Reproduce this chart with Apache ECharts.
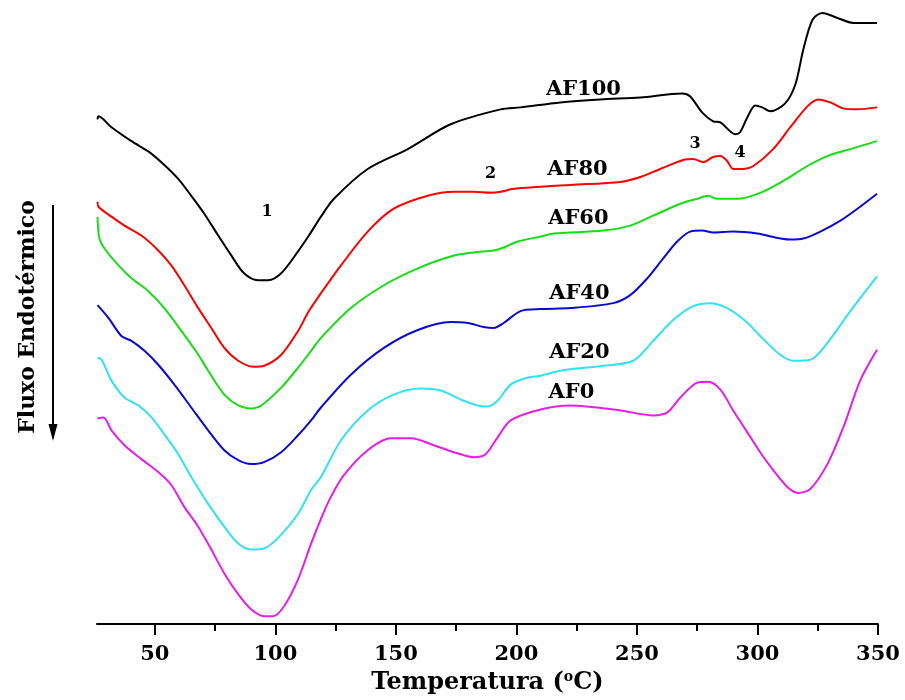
<!DOCTYPE html>
<html>
<head>
<meta charset="utf-8">
<script src="https://cdn.jsdelivr.net/npm/echarts@6/dist/echarts.min.js"></script>
<style>html,body{margin:0;padding:0;background:#fff}#c{width:905px;height:700px}</style>
</head>
<body>
<div id="c"></div>
<script>
// Temperature (°C) and heat-flow signal (arbitrary units, offset curves)
const af100T = [26.2,26.6,32.0,40.3,47.7,53.5,59.7,65.1,70.5,76.3,81.7,87.0,92.8,97.0,102.4,109.4,113.9,118.9,124.3,138.3,154.9,172.7,193.4,201.7,218.2,234.8,251.4,268.8,272.1,277.0,281.6,284.6,290.8,292.8,295.8,299.1,302.0,305.3,311.5,315.7,319.0,322.8,326.9,333.2,339.7,349.6];
const af100V = [50.8,51.1,50.0,48.6,47.5,46.3,44.8,43.1,41.3,39.1,37.1,35.3,34.6,34.6,35.3,37.5,39.1,41.0,42.8,45.8,47.8,50.3,51.8,52.0,52.5,52.8,53.0,53.4,53.1,51.5,50.6,50.5,49.3,49.5,51.0,52.2,52.0,51.6,52.4,54.3,57.8,60.8,61.5,61.0,60.5,60.5];

const af80T = [26.2,26.6,32.0,37.4,44.4,51.4,56.8,62.2,68.0,73.4,78.8,84.6,90.8,95.3,102.4,109.4,113.9,118.9,127.2,138.3,149.1,163.2,174.0,182.2,189.3,193.4,198.8,210.0,222.4,243.1,251.4,259.6,269.2,273.3,277.5,281.6,284.6,287.4,289.9,294.1,298.3,306.5,313.6,320.7,325.2,330.2,335.6,341.4,349.6];
const af80V = [42.5,42.0,41.0,40.1,39.1,37.6,36.1,34.1,31.8,29.8,27.8,26.5,25.9,26.0,27.1,29.5,31.5,33.3,36.1,39.5,41.8,43.1,43.5,43.5,43.4,43.5,43.8,44.0,44.2,44.5,45.0,45.8,46.7,46.8,46.5,47.0,47.1,46.6,45.8,45.8,46.1,47.8,50.0,52.1,52.8,52.5,51.9,51.8,52.0];

const af60T = [26.2,27.0,29.1,34.9,40.3,47.3,53.9,61.0,68.0,72.1,78.8,84.6,89.9,94.1,102.4,109.4,114.8,118.9,131.3,145.0,159.1,172.7,182.2,190.5,194.7,200.5,210.0,215.4,236.0,247.2,256.7,268.0,275.0,279.5,283.3,291.6,301.1,310.7,320.7,329.0,338.5,349.6];
const af60V = [41.0,38.8,37.8,36.1,34.8,33.5,31.8,29.5,27.1,25.5,23.1,22.0,21.7,22.0,23.8,25.8,27.5,28.8,31.8,34.1,35.8,37.0,37.4,37.6,37.9,38.5,39.0,39.3,39.6,40.1,41.1,42.3,42.8,43.1,42.8,42.8,43.4,44.6,46.1,47.1,47.8,48.6];

const af40T = [26.2,30.8,36.1,40.3,45.7,51.4,58.1,65.1,72.1,78.8,84.6,89.9,95.3,102.4,109.4,114.8,118.9,131.3,145.0,159.1,172.7,179.8,186.4,190.5,194.7,201.7,210.0,222.4,240.2,247.2,254.3,260.9,266.7,272.1,277.0,281.6,289.9,299.9,313.6,319.0,326.1,334.4,342.6,349.6];
const af40V = [32.1,30.8,29.0,28.5,27.5,26.1,24.1,21.8,19.5,17.5,16.5,16.1,16.3,17.3,19.0,20.5,21.8,25.1,27.8,29.6,30.4,30.3,29.9,29.8,30.3,31.5,31.7,31.8,32.3,33.1,34.8,36.8,38.5,39.5,39.6,39.4,39.5,39.3,38.7,38.8,39.5,40.6,42.0,43.3];

const af20T = [26.2,27.9,32.0,37.4,43.2,48.6,53.9,59.7,65.1,72.1,78.8,84.6,89.9,95.3,102.4,109.4,114.8,118.9,127.2,138.3,149.1,160.3,168.6,176.9,183.9,188.1,192.2,197.6,204.6,210.0,218.2,236.0,248.5,256.7,265.0,273.3,280.4,287.4,295.0,301.1,309.4,314.9,321.9,329.0,338.5,349.6];
const af20V = [26.8,26.6,24.5,22.8,22.0,20.8,19.1,17.1,14.8,12.1,9.8,8.1,7.5,7.6,9.0,11.1,13.5,14.8,18.5,21.5,23.1,23.7,23.5,22.6,22.0,21.9,22.5,24.1,24.8,25.0,25.5,26.0,26.5,28.5,30.6,32.0,32.3,31.8,30.5,29.0,27.1,26.5,26.6,28.3,31.5,35.0];

const af0T = [26.2,28.7,32.0,37.4,44.4,51.4,56.8,62.2,68.0,73.4,78.8,84.6,89.9,95.3,99.0,103.6,109.4,114.8,118.9,123.0,128.4,138.3,147.9,156.2,165.7,174.0,182.2,187.2,192.2,197.6,210.0,222.4,243.1,256.7,262.6,268.0,275.0,279.5,284.6,289.9,295.0,301.1,306.5,312.4,316.9,321.9,329.0,335.6,342.6,349.6];
const af0V = [20.7,20.8,19.5,18.0,16.6,15.3,14.0,11.8,9.8,7.5,5.1,3.0,1.5,0.8,0.8,1.8,4.5,8.1,10.6,12.8,15.0,17.5,18.7,18.7,18.0,17.3,16.8,17.1,18.8,20.5,21.6,22.0,21.5,21.0,21.3,22.8,24.3,24.4,23.6,21.5,19.6,17.3,15.5,13.8,13.2,13.6,16.1,19.8,24.5,27.6];

const seriesNames = ['AF100','AF80','AF60','AF40','AF20','AF0'];
const seriesColors = ['#000000','#ff0000','#18dc18','#0a0ad2','#30e3ee','#e61ee6'];

// Annotations (text placed at data coordinates)
const noteText = ['AF100','AF80','AF60','AF40','AF20','AF0','1','2','3','4'];
const noteT = [227.8,225.3,225.7,226.1,226.1,222.8,96.6,189.3,274.1,292.8];
const noteV = [53.8,45.7,40.8,33.3,27.3,23.3,41.5,45.3,48.3,47.4];
const noteSize = [21,21,21,21,21,21,16,16,16,16];

const majorTicks = [50,100,150,200,250,300,350];
const minorTicks = [75,125,175,225,275,325];

const zip = (a,b) => a.map((t,i) => [t,b[i]]);
const allData = [zip(af100T,af100V),zip(af80T,af80V),zip(af60T,af60V),zip(af40T,af40V),zip(af20T,af20V),zip(af0T,af0V)];

const serif = 'DejaVu Serif';
const chart = echarts.init(document.getElementById('c'), null, {renderer:'canvas'});

const series = allData.map((d,i) => ({
  name: seriesNames[i], type:'line', data:d, showSymbol:false, smooth:0.3,
  lineStyle:{color:seriesColors[i], width:2}, itemStyle:{color:seriesColors[i]},
  xAxisIndex:0, yAxisIndex:0, animation:false, z:2
}));

chart.setOption({
  animation:false,
  backgroundColor:'#ffffff',
  grid:{left:97, right:27, top:8, bottom:72},
  xAxis:[{
    type:'value', min:26, max:350,
    axisLine:{show:true, lineStyle:{color:'#000', width:2}},
    axisTick:{show:true, customValues:majorTicks, length:11, lineStyle:{color:'#000', width:2}},
    axisLabel:{show:true, customValues:majorTicks, margin:20, color:'#000', fontFamily:serif, fontWeight:'bold', fontSize:21},
    splitLine:{show:false},
    name:'{a|Temperatura (}{s|o}{a|C)}', nameLocation:'middle', nameGap:44,
    nameTextStyle:{rich:{
      a:{fontFamily:serif, fontWeight:'bold', fontSize:24, color:'#000'},
      s:{fontFamily:serif, fontWeight:'bold', fontSize:14, color:'#000', padding:[0,0,12,0]}
    }}
  },{
    type:'value', min:26, max:350, position:'bottom',
    axisLine:{show:false},
    axisTick:{show:true, customValues:minorTicks, length:7, lineStyle:{color:'#000', width:2}},
    axisLabel:{show:false}, splitLine:{show:false}
  }],
  yAxis:{type:'value', min:0, max:62, show:false},
  series: series
});

const graphics = [
  {type:'text', x:28, y:317, rotation:Math.PI/2,
   style:{text:'Fluxo Endotérmico', fontFamily:serif, fontWeight:'bold', fontSize:22, fill:'#000', textAlign:'center', textVerticalAlign:'middle'}},
  {type:'line', shape:{x1:53, y1:205, x2:53, y2:428}, style:{stroke:'#000', lineWidth:2}},
  {type:'polygon', shape:{points:[[48.5,424],[57.5,424],[53,441]]}, style:{fill:'#000'}}
];
noteText.forEach((t,i) => {
  const p = chart.convertToPixel({xAxisIndex:0, yAxisIndex:0}, [noteT[i], noteV[i]]);
  graphics.push({type:'text', x:p[0], y:p[1], z:10,
    style:{text:t, fontFamily:serif, fontWeight:'bold', fontSize:noteSize[i], fill:'#000', textAlign:'center', textVerticalAlign:'middle'}});
});
chart.setOption({graphic:graphics});
</script>
</body>
</html>
